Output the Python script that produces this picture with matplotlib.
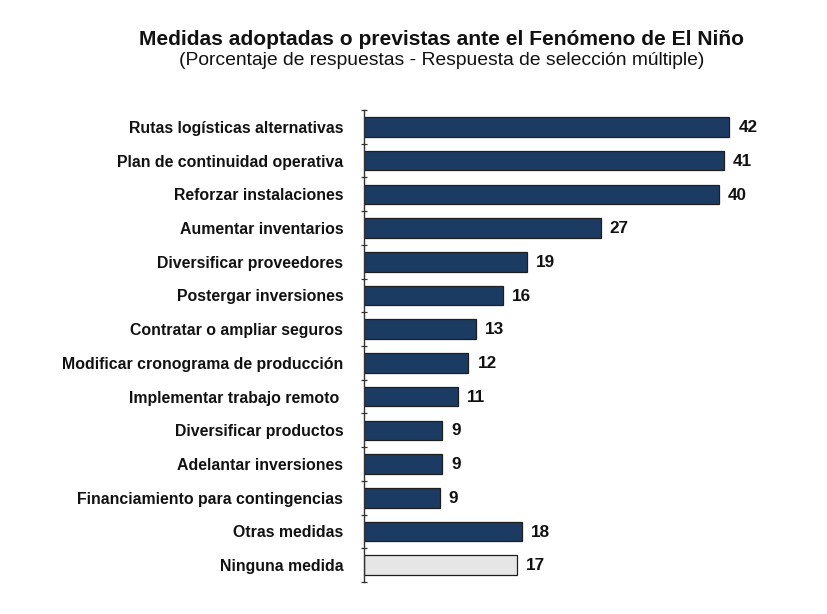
import matplotlib
matplotlib.use("Agg")
import matplotlib.pyplot as plt
from matplotlib.ticker import FixedLocator, NullFormatter
import numpy as np

plt.rcParams['font.family'] = ['Liberation Sans', 'DejaVu Sans']

categories = [
    "Rutas logísticas alternativas",
    "Plan de continuidad operativa",
    "Reforzar instalaciones",
    "Aumentar inventarios",
    "Diversificar proveedores",
    "Postergar inversiones",
    "Contratar o ampliar seguros",
    "Modificar cronograma de producción",
    "Implementar trabajo remoto ",
    "Diversificar productos",
    "Adelantar inversiones",
    "Financiamiento para contingencias",
    "Otras medidas",
    "Ninguna medida",
]
values = [42.0, 41.4, 40.8, 27.2, 18.7, 16.0, 12.9, 12.0, 10.8, 9.0, 9.0, 8.7, 18.2, 17.6]
labels = ["42", "41", "40", "27", "19", "16", "13", "12", "11", "9", "9", "9", "18", "17"]
colors = ["#1B3B62"] * 13 + ["#E6E6E6"]

fig = plt.figure(figsize=(8.28, 6.14), dpi=100)
ax = fig.add_axes([0.4396, 0.0521, 0.5254, 0.7687])

y = np.arange(len(categories))
ax.barh(y, values, height=0.58, color=colors, edgecolor="#1e1e1e", linewidth=0.9)
ax.set_ylim(len(categories) - 0.5, -0.5)
ax.set_xlim(0, 50)

for yi, v, lab in zip(y, values, labels):
    ax.annotate(lab, xy=(v, yi), xytext=(6.5, -0.5), textcoords="offset points",
                ha="left", va="center", fontsize=12.3, fontweight="bold", color="#111111")

ax.set_yticks(y)
ax.set_yticklabels(categories, fontsize=11.4, fontweight="bold", color="#111111")
ax.tick_params(axis="y", which="major", length=0, pad=15)
ax.yaxis.set_minor_locator(FixedLocator(np.arange(-0.5, len(categories) + 0.5, 1)))
ax.yaxis.set_minor_formatter(NullFormatter())
ax.tick_params(axis="y", which="minor", direction="inout", length=4, width=0.9, color="#333333")

ax.set_xticks([])
for s in ["top", "right", "bottom"]:
    ax.spines[s].set_visible(False)
ax.spines["left"].set_color("#333333")
ax.spines["left"].set_linewidth(1.0)

fig.text(0.533, 0.935, "Medidas adoptadas o previstas ante el Fenómeno de El Niño",
         ha="center", va="center", fontsize=15.15, fontweight="bold", color="#111111")
fig.text(0.534, 0.901, "(Porcentaje de respuestas - Respuesta de selección múltiple)",
         ha="center", va="center", fontsize=13.9, color="#111111")

fig.savefig("out.png", dpi=100)
